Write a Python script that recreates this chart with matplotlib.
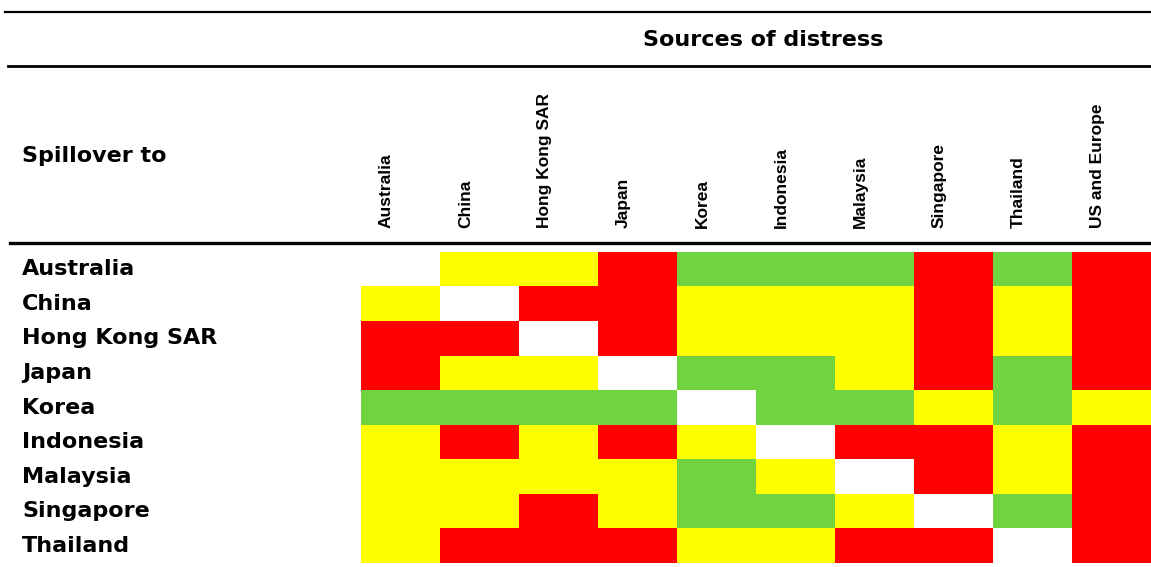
import numpy as np
import matplotlib
matplotlib.use("Agg")
from matplotlib import pyplot as plt
from matplotlib.colors import ListedColormap
from matplotlib.transforms import blended_transform_factory

sources = ["Australia", "China", "Hong Kong SAR", "Japan", "Korea", "Indonesia",
           "Malaysia", "Singapore", "Thailand", "US and Europe"]
receivers = ["Australia", "China", "Hong Kong SAR", "Japan", "Korea", "Indonesia",
             "Malaysia", "Singapore", "Thailand"]

# spillover intensity: R = high, Y = medium, G = low, - = own country
spill = [
    ["-", "Y", "Y", "R", "G", "G", "G", "R", "G", "R"],
    ["Y", "-", "R", "R", "Y", "Y", "Y", "R", "Y", "R"],
    ["R", "R", "-", "R", "Y", "Y", "Y", "R", "Y", "R"],
    ["R", "Y", "Y", "-", "G", "G", "Y", "R", "G", "R"],
    ["G", "G", "G", "G", "-", "G", "G", "Y", "G", "Y"],
    ["Y", "R", "Y", "R", "Y", "-", "R", "R", "Y", "R"],
    ["Y", "Y", "Y", "Y", "G", "Y", "-", "R", "Y", "R"],
    ["Y", "Y", "R", "Y", "G", "G", "Y", "-", "G", "R"],
    ["Y", "R", "R", "R", "Y", "Y", "R", "R", "-", "R"],
]

levels = ["-", "G", "Y", "R"]
level_colors = ["#FFFFFF", "#70D340", "#FFFF00", "#FF0000"]

W, H = 1151, 567
fig = plt.figure(figsize=(W / 100, H / 100), dpi=100)

codes = np.array([[levels.index(c) for c in row] for row in spill])
ax = fig.add_axes([361 / W, 4 / H, 790 / W, 311 / H])
ax.imshow(codes, cmap=ListedColormap(level_colors), vmin=-0.5, vmax=3.5,
          aspect="auto", interpolation="nearest")
ax.set_axis_off()

# overlay in pixel coordinates for rules and headers
over = fig.add_axes([0, 0, 1, 1], facecolor="none")
over.set_xlim(0, W)
over.set_ylim(H, 0)
over.set_axis_off()
over.plot([5, W], [12, 12], color="black", linewidth=1.6)
over.plot([8, W], [66, 66], color="black", linewidth=2.0)
over.plot([10, W], [243, 243], color="black", linewidth=2.4)

over.text(763, 40, "Sources of distress", ha="center", va="center",
          fontsize=16, fontweight="bold", family="DejaVu Sans")
over.text(22, 156, "Spillover to", ha="left", va="center",
          fontsize=16, fontweight="bold", family="DejaVu Sans")

row_tr = blended_transform_factory(fig.transFigure, ax.transData)
for i, name in enumerate(receivers):
    ax.text(22 / W, i, name, transform=row_tr, ha="left", va="center",
            fontsize=16, fontweight="bold", family="DejaVu Sans", clip_on=False)

col_tr = blended_transform_factory(ax.transData, fig.transFigure)
for j, name in enumerate(sources):
    ax.text(j - 0.18, (H - 228) / H, name, transform=col_tr, rotation=90,
            ha="center", va="bottom", fontsize=12.5, fontweight="bold",
            family="Liberation Sans", clip_on=False)

fig.savefig("out.png", dpi=100)
